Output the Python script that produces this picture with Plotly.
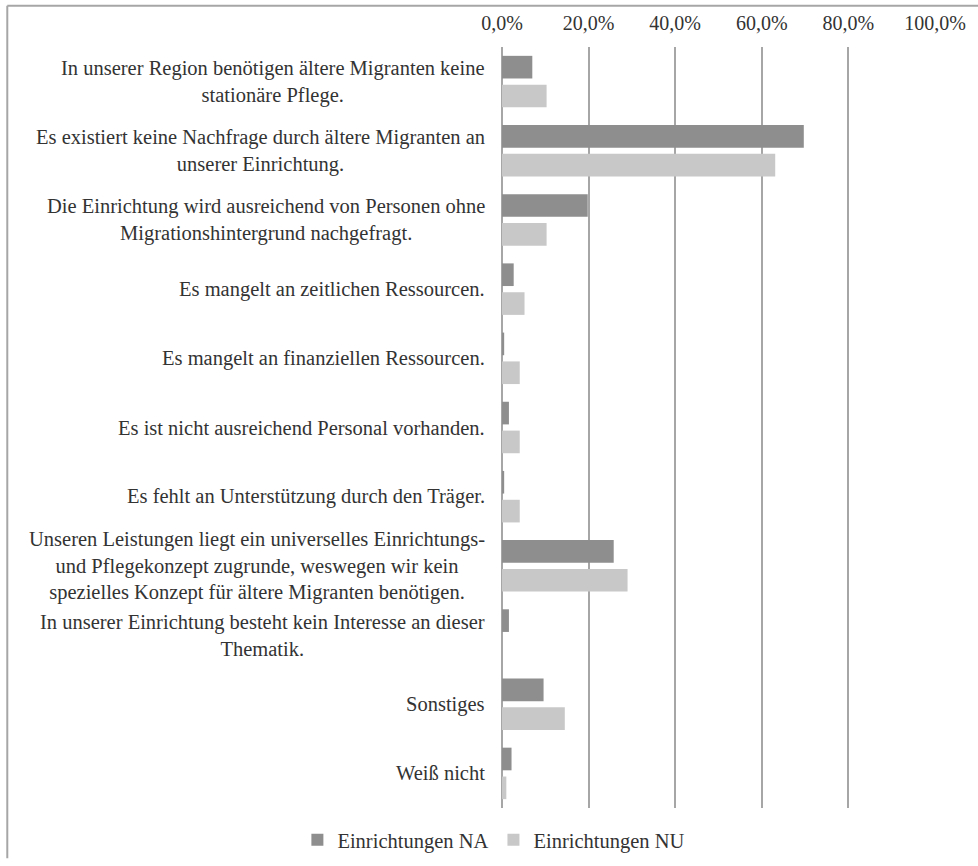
import plotly.graph_objects as go

# Response categories (top to bottom)
categories = [
    "In unserer Region benötigen ältere Migranten keine<br>stationäre Pflege.",
    "Es existiert keine Nachfrage durch ältere Migranten an<br>unserer Einrichtung.",
    "Die Einrichtung wird ausreichend von Personen ohne<br>Migrationshintergrund nachgefragt.",
    "Es mangelt an zeitlichen Ressourcen.",
    "Es mangelt an finanziellen Ressourcen.",
    "Es ist nicht ausreichend Personal vorhanden.",
    "Es fehlt an Unterstützung durch den Träger.",
    "Unseren Leistungen liegt ein universelles Einrichtungs-<br>und Pflegekonzept zugrunde, weswegen wir kein<br>spezielles Konzept für ältere Migranten benötigen.",
    "In unserer Einrichtung besteht kein Interesse an dieser<br>Thematik.",
    "Sonstiges",
    "Weiß nicht",
]

# Shares in percent
values_na = [7.0, 69.7, 19.8, 2.7, 0.5, 1.6, 0.5, 25.8, 1.6, 9.6, 2.2]
values_nu = [10.3, 63.1, 10.3, 5.2, 4.1, 4.1, 4.1, 29.0, 0.0, 14.5, 1.0]

series_names = ["Einrichtungen NA", "Einrichtungen NU"]
series_colors = ["#8e8e8e", "#c8c8c8"]

x_ticks = [0, 20, 40, 60, 80, 100]
x_tick_text = [f"{v:.1f}%".replace(".", ",") for v in x_ticks]

W, H = 978, 866
L, R, T, B = 502, 41, 47, 46

FONT = "'Liberation Serif', 'Times New Roman', Times, serif"
TEXT = "#333333"
GRID = "#a6a6a6"
FS = 20.5

ids = list(range(len(categories)))

fig = go.Figure()
for name, vals, col in zip(series_names, [values_na, values_nu], series_colors):
    fig.add_trace(go.Bar(
        y=ids, x=vals, name=name, orientation="h",
        marker=dict(color=col, line=dict(width=0)),
        hoverinfo="x+name",
    ))

# Category labels: right-aligned block, lines centred against each other
annotations = []
for i, cat in enumerate(categories):
    annotations.append(dict(
        x=0, xref="paper", xanchor="right", xshift=-15,
        y=i, yref="y", yanchor="middle",
        text=cat, align="center", showarrow=False,
        font=dict(family=FONT, size=FS, color=TEXT),
    ))

pw = W - L - R
ph = H - T - B
def px_x(p):
    return (p - L) / pw
def px_y(p):
    return (H - B - p) / ph

# Outer frame (left and top edges)
shapes = [
    dict(type="line", xref="paper", yref="paper",
         x0=px_x(5), x1=px_x(5), y0=px_y(5), y1=px_y(H + 5),
         line=dict(color=GRID, width=2)),
    dict(type="line", xref="paper", yref="paper",
         x0=px_x(5), x1=px_x(W + 5), y0=px_y(5), y1=px_y(5),
         line=dict(color=GRID, width=2)),
]

fig.update_layout(
    width=W, height=H,
    margin=dict(l=L, r=R, t=T, b=B, pad=0),
    paper_bgcolor="white", plot_bgcolor="white",
    barmode="group", bargap=0.166, bargroupgap=0.215,
    font=dict(family=FONT, size=FS, color=TEXT),
    xaxis=dict(
        range=[0, 100], side="top", tickvals=x_ticks, ticktext=x_tick_text,
        showgrid=True, gridcolor=GRID, gridwidth=1.5,
        zeroline=True, zerolinecolor=GRID, zerolinewidth=1.5,
        showline=False, ticks="", ticklabelstandoff=12,
        tickfont=dict(family=FONT, size=20, color=TEXT),
        fixedrange=True,
    ),
    yaxis=dict(
        range=[len(categories) - 0.5, -0.5],
        tickvals=ids, showticklabels=False, showgrid=False,
        zeroline=False, showline=False, ticks="", fixedrange=True,
    ),
    legend=dict(
        orientation="h", xref="container", yref="container",
        x=0.505, xanchor="center", y=1 - 840 / H, yanchor="middle",
        font=dict(family=FONT, size=FS, color=TEXT),
        itemwidth=30, traceorder="normal",
    ),
    annotations=annotations,
    shapes=shapes,
)

fig.write_html("out.html")
